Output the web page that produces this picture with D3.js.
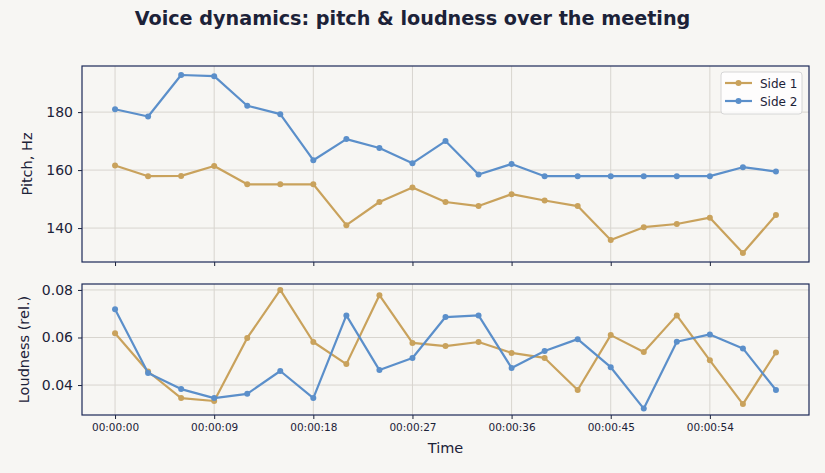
<!DOCTYPE html>
<html>
<head>
<meta charset="utf-8">
<script src="https://cdn.jsdelivr.net/npm/d3@7"></script>
<style>
  body { margin: 0; background: #f7f6f3; }
  svg { display: block; font-family: "DejaVu Sans", sans-serif; }
</style>
</head>
<body>
<svg id="chart" width="825" height="473"></svg>
<script>
// time of each sample, seconds
var seconds = [0, 3, 6, 9, 12, 15, 18, 21, 24, 27, 30, 33, 36, 39, 42, 45, 48, 51, 54, 57, 60];
var tickSeconds = [0, 9, 18, 27, 36, 45, 54];
var seriesNames = ["Side 1", "Side 2"];

var pitchSide1 = [161.6, 157.9, 158.0, 161.4, 155.1, 155.1, 155.1, 141.0, 149.0, 154.0, 149.0,
                  147.6, 151.7, 149.5, 147.6, 135.9, 140.3, 141.4, 143.6, 131.4, 144.5];
var pitchSide2 = [181.0, 178.5, 192.8, 192.4, 182.2, 179.3, 163.4, 170.7, 167.6, 162.4, 170.0,
                  158.5, 162.1, 157.9, 157.9, 157.9, 157.9, 157.9, 157.9, 161.0, 159.5];

var loudSide1 = [0.0618, 0.0457, 0.0345, 0.0333, 0.0598, 0.0800, 0.0581, 0.0488, 0.0778, 0.0577, 0.0564,
                 0.0581, 0.0535, 0.0514, 0.0379, 0.0610, 0.0539, 0.0693, 0.0504, 0.0320, 0.0537];
var loudSide2 = [0.0719, 0.0451, 0.0383, 0.0345, 0.0363, 0.0459, 0.0345, 0.0693, 0.0463, 0.0514, 0.0686,
                 0.0693, 0.0472, 0.0543, 0.0593, 0.0475, 0.0301, 0.0582, 0.0613, 0.0554, 0.0379];

var colors = ["#c9a25c", "#5b8fca"];
var ink = "#1c2238";
var spine = "#1c2858";
var grid = "#d8d5cf";

var svg = d3.select("#chart");
var left = 82, right = 809;

var x = d3.scaleLinear().domain([-3, 63]).range([left, right]);

var fmt = function(s) {
	var h = Math.floor(s / 3600), m = Math.floor(s / 60) % 60, sec = s % 60;
	return [h, m, sec].map(function(v) { return (v < 10 ? "0" : "") + v; }).join(":");
};

svg.append("text")
	.attr("x", 412.5).attr("y", 25)
	.attr("text-anchor", "middle")
	.attr("font-size", 19.2).attr("font-weight", "bold")
	.attr("fill", ink)
	.text("Voice dynamics: pitch & loudness over the meeting");

var drawPanel = function(opts) {
	var y = d3.scaleLinear().domain(opts.domain).range([opts.bottom, opts.top]);
	var g = svg.append("g");

	// grid
	g.selectAll(".gx").data(tickSeconds).enter().append("line")
		.attr("x1", function(d) { return x(d); }).attr("x2", function(d) { return x(d); })
		.attr("y1", opts.top).attr("y2", opts.bottom)
		.attr("stroke", grid).attr("stroke-width", 1);
	g.selectAll(".gy").data(opts.ticks).enter().append("line")
		.attr("x1", left).attr("x2", right)
		.attr("y1", function(d) { return y(d); }).attr("y2", function(d) { return y(d); })
		.attr("stroke", grid).attr("stroke-width", 1);

	// axes
	var xAxis = d3.axisBottom(x).tickValues(tickSeconds).tickSize(4).tickPadding(5)
		.tickFormat(opts.showX ? fmt : "");
	var gx = g.append("g").attr("transform", "translate(0," + opts.bottom + ")").call(xAxis);
	gx.select(".domain").remove();
	gx.selectAll("line").attr("stroke", ink);
	gx.selectAll("text").attr("font-size", 10.5).attr("fill", ink).attr("font-family", "DejaVu Sans");

	var yAxis = d3.axisLeft(y).tickValues(opts.ticks).tickSize(4).tickPadding(5)
		.tickFormat(opts.format);
	var gy = g.append("g").attr("transform", "translate(" + left + ",0)").call(yAxis);
	gy.select(".domain").remove();
	gy.selectAll("line").attr("stroke", ink);
	gy.selectAll("text").attr("font-size", 14).attr("fill", ink).attr("font-family", "DejaVu Sans");

	// series
	var line = d3.line()
		.x(function(d, i) { return x(seconds[i]); })
		.y(function(d) { return y(d); });

	opts.series.forEach(function(vals, k) {
		g.append("path").datum(vals)
			.attr("d", line)
			.attr("fill", "none")
			.attr("stroke", colors[k]).attr("stroke-width", 2.2)
			.attr("stroke-linejoin", "round");
		g.selectAll(".pt" + k).data(vals).enter().append("circle")
			.attr("cx", function(d, i) { return x(seconds[i]); })
			.attr("cy", function(d) { return y(d); })
			.attr("r", 3)
			.attr("fill", colors[k]);
	});

	g.append("rect")
		.attr("x", left).attr("y", opts.top)
		.attr("width", right - left).attr("height", opts.bottom - opts.top)
		.attr("fill", "none").attr("stroke", spine).attr("stroke-width", 1.2);

	g.append("text")
		.attr("transform", "translate(" + opts.labelX + "," + ((opts.top + opts.bottom) / 2) + ") rotate(-90)")
		.attr("text-anchor", "middle")
		.attr("font-size", 14.5).attr("fill", ink)
		.text(opts.label);
};

drawPanel({
	top: 66, bottom: 262, domain: [128.3, 195.9], ticks: [140, 160, 180],
	format: d3.format("d"), series: [pitchSide1, pitchSide2],
	label: "Pitch, Hz", labelX: 32, showX: false
});

drawPanel({
	top: 284, bottom: 415, domain: [0.0274, 0.0825], ticks: [0.04, 0.06, 0.08],
	format: d3.format(".2f"), series: [loudSide1, loudSide2],
	label: "Loudness (rel.)", labelX: 29, showX: true
});

svg.append("text")
	.attr("x", (left + right) / 2).attr("y", 453)
	.attr("text-anchor", "middle")
	.attr("font-size", 14.5).attr("fill", ink)
	.text("Time");

// legend
var lg = svg.append("g").attr("transform", "translate(721,72)");
lg.append("rect")
	.attr("width", 81).attr("height", 42).attr("rx", 3)
	.attr("fill", "#ffffff").attr("fill-opacity", 0.8)
	.attr("stroke", "#d6d6d6");
seriesNames.forEach(function(name, k) {
	var yy = 11 + k * 18;
	lg.append("line").attr("x1", 4).attr("x2", 31).attr("y1", yy).attr("y2", yy)
		.attr("stroke", colors[k]).attr("stroke-width", 2.2);
	lg.append("circle").attr("cx", 17.5).attr("cy", yy).attr("r", 3).attr("fill", colors[k]);
	lg.append("text").attr("x", 39).attr("y", yy + 4.5)
		.attr("font-size", 12).attr("fill", ink).text(name);
});
</script>
</body>
</html>
